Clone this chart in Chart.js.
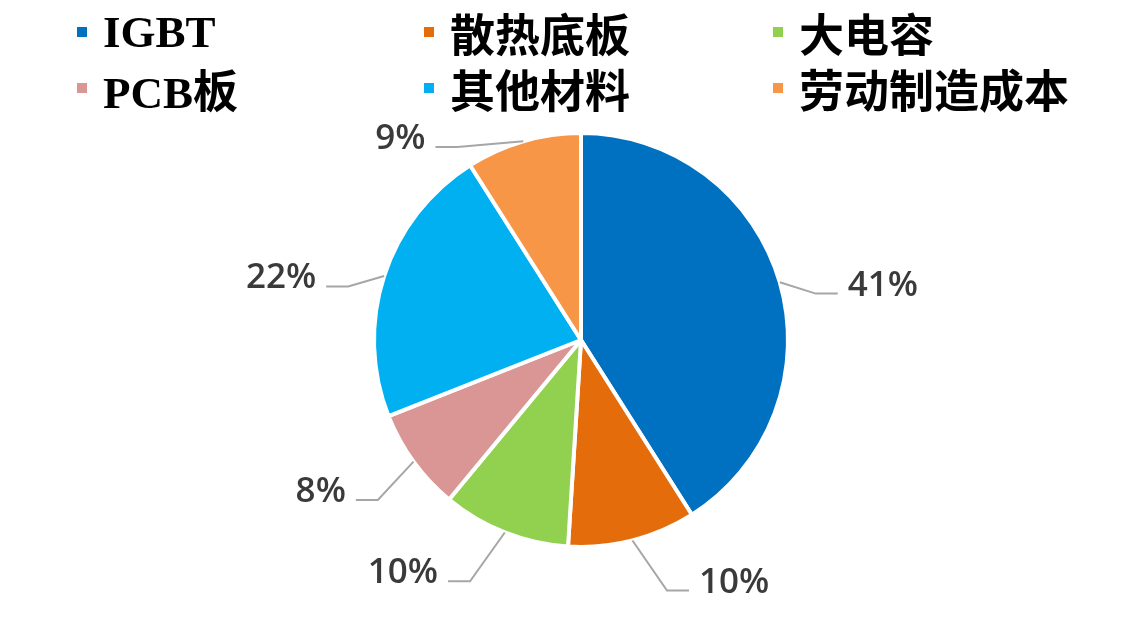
<!DOCTYPE html>
<html>
<head>
<meta charset="utf-8">
<script src="https://cdn.jsdelivr.net/npm/chart.js@4"></script>
<style>
  html, body { margin: 0; padding: 0; background: #ffffff; }
  #wrap { position: relative; width: 1134px; height: 628px; }
  #legenda { position: absolute; left: 0; top: 0; width: 1134px; }
  .item { position: absolute; display: flex; align-items: center; height: 56px; }
  .caixa { width: 10px; height: 10px; margin-right: 16px; }
  .texto { font-family: "Liberation Serif", "Noto Sans CJK SC", serif; font-weight: bold; font-size: 45px; color: #000; white-space: nowrap; }
</style>
</head>
<body>
<div id="wrap">
  <canvas id="grafico" width="1134" height="628"></canvas>
  <div id="legenda"></div>
</div>
<script>
// categorias e valores (%)
const categorias = ['IGBT', '散热底板', '大电容', 'PCB板', '其他材料', '劳动制造成本'];
const valores = [41, 10, 10, 8, 22, 9];
const cores = ['#0070C0', '#E46C0A', '#92D050', '#D99694', '#00B0F0', '#F79646'];

// Legenda em grelha 3 x 2
const colunasX = [77, 424, 773];
const linhasY = [4, 60];
const legenda = document.getElementById('legenda');
categorias.forEach((nome, i) => {
    let el = document.createElement('div');
    el.className = 'item';
    el.style.left = colunasX[i % 3] + 'px';
    el.style.top = linhasY[Math.floor(i / 3)] + 'px';
    el.innerHTML = '<span class="caixa" style="background:' + cores[i] + '"></span><span class="texto">' + nome + '</span>';
    legenda.appendChild(el);
});

// Rótulos exteriores com linhas de chamada (estilo Excel: empurrados para a horizontal)
const rotulosFora = {
    id: 'rotulosFora',
    afterDatasetsDraw(chart) {
        const ctx = chart.ctx;
        const meta = chart.getDatasetMeta(0);
        ctx.save();
        ctx.font = '600 35px "Open Sans", sans-serif';
        ctx.textBaseline = 'middle';
        meta.data.forEach((arco, i) => {
            const p = arco.getProps(['x', 'y', 'startAngle', 'endAngle', 'outerRadius'], true);
            const r = p.outerRadius;
            const meio = (p.startAngle + p.endAngle) / 2;
            const cos = Math.cos(meio), sin = Math.sin(meio);
            const dir = cos >= 0 ? 1 : -1;
            const x0 = p.x + r * cos, y0 = p.y + r * sin;
            let x2 = p.x + r * 1.01 * cos + dir * 56;
            let y2 = p.y + r * 1.15 * sin + 20;
            const limite = p.y - r + 14;
            if (y2 < limite) {
                x2 += dir * 2 * (limite - y2);
                y2 = limite;
            }
            const x1 = x2 - dir * 22;
            ctx.strokeStyle = '#A6A6A6';
            ctx.lineWidth = 2;
            ctx.beginPath();
            ctx.moveTo(x0, y0);
            ctx.lineTo(x1, y2);
            ctx.lineTo(x2, y2);
            ctx.stroke();
            ctx.fillStyle = '#3A3A3A';
            ctx.textAlign = dir > 0 ? 'left' : 'right';
            ctx.fillText(valores[i] + '%', x2 + dir * 10, y2 - 8);
        });
        ctx.restore();
    }
};

new Chart(document.getElementById('grafico'), {
    type: 'pie',
    data: {
        labels: categorias,
        datasets: [{ data: valores, backgroundColor: cores, borderColor: '#ffffff', borderWidth: 4 }]
    },
    options: {
        responsive: false,
        animation: false,
        layout: { padding: { top: 131, bottom: 79, left: 372, right: 344 } },
        plugins: { legend: { display: false }, tooltip: { enabled: false } }
    },
    plugins: [rotulosFora]
});
</script>
</body>
</html>
